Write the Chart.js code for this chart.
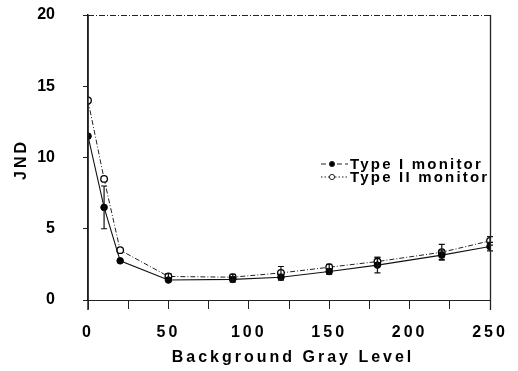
<!DOCTYPE html>
<html><head><meta charset="utf-8">
<script src="https://cdn.jsdelivr.net/npm/chart.js@4/dist/chart.umd.min.js"></script>
<style>html,body{margin:0;padding:0;background:#fff}#w{width:518px;height:371px}</style>
</head><body><div id="w"><canvas id="c"></canvas></div>
<script>
const grayLevels = [0, 10, 20, 50, 90, 120, 150, 180, 220, 250];
const type1 = [11.5, 6.5, 2.75, 1.4, 1.45, 1.6, 2.0, 2.45, 3.15, 3.75];
const type2 = [14.0, 8.5, 3.5, 1.65, 1.6, 1.9, 2.3, 2.7, 3.35, 4.15];
const type1Err = [0, 1.5, 0, 0, 0.2, 0.2, 0.2, 0.55, 0.3, 0.3];
const type2Err = [0, 0, 0, 0.2, 0.2, 0.45, 0.2, 0.3, 0.55, 0.3];
const yTicks = [0, 5, 10, 15, 20];
const xTicks = [0, 50, 100, 150, 200, 250];
const seriesNames = ['Type I monitor', 'Type II monitor'];
const xTitle = 'Background Gray Level';
const yTitle = 'JND';

const FONT = 'bold 16px "Liberation Sans", Arial, sans-serif';

const spacing = {
  id: 'spacing',
  afterLayout(chart) {
    const s = chart.scales.y;
    if (!s._patched) {
      const orig = s.drawLabels.bind(s);
      s.drawLabels = function (area) {
        const ctx = chart.ctx; const prev = ctx.letterSpacing;
        ctx.letterSpacing = '0px'; orig(area); ctx.letterSpacing = prev;
      };
      s._patched = true;
    }
  },
  beforeDraw(chart) { chart.ctx.letterSpacing = '3px'; }
};

const errorBars = {
  id: 'errorBars',
  afterDatasetsDraw(chart) {
    const ctx = chart.ctx, ys = chart.scales.y, xs = chart.scales.x;
    const errs = [type1Err, type2Err];
    ctx.save();
    ctx.strokeStyle = '#111'; ctx.lineWidth = 1.2; ctx.setLineDash([]);
    chart.data.datasets.forEach((ds, i) => {
      ds.data.forEach((p, j) => {
        const e = errs[i][j];
        if (!e) return;
        const x = xs.getPixelForValue(p.x);
        const y1 = ys.getPixelForValue(p.y - e), y2 = ys.getPixelForValue(p.y + e);
        ctx.beginPath();
        ctx.moveTo(x, y1); ctx.lineTo(x, y2);
        ctx.moveTo(x - 3, y1); ctx.lineTo(x + 3, y1);
        ctx.moveTo(x - 3, y2); ctx.lineTo(x + 3, y2);
        ctx.stroke();
      });
    });
    ctx.restore();
  }
};

const frame = {
  id: 'frame',
  afterDraw(chart) {
    const ctx = chart.ctx, a = chart.chartArea;
    ctx.save();
    ctx.strokeStyle = '#222'; ctx.lineWidth = 1;
    ctx.setLineDash([6, 2, 1, 2]);
    ctx.beginPath(); ctx.moveTo(a.left, a.top + 0.5); ctx.lineTo(a.right, a.top + 0.5); ctx.stroke();
    ctx.setLineDash([]);
    ctx.lineWidth = 1.3;
    ctx.beginPath(); ctx.moveTo(a.right + 0.5, a.top); ctx.lineTo(a.right + 0.5, a.bottom + 10); ctx.stroke();
    ctx.lineWidth = 1.5;
    ctx.beginPath(); ctx.moveTo(a.left, a.top); ctx.lineTo(a.left, a.bottom + 10); ctx.stroke();
    ctx.letterSpacing = '3px';
    ctx.fillStyle = '#000'; ctx.font = FONT;
    ctx.textAlign = 'center'; ctx.textBaseline = 'middle';
    ctx.fillText(xTitle, (a.left + a.right) / 2 + 4, 358);
    ctx.save();
    ctx.translate(22, 161); ctx.rotate(-Math.PI / 2);
    ctx.fillText(yTitle, 1.5, 0);
    ctx.restore();
    ctx.letterSpacing = '2.2px';
    ctx.font = 'bold 15px "Liberation Sans", Arial, sans-serif';
    ctx.textAlign = 'left';
    chart.data.datasets.forEach((ds, i) => {
      const y = 164 + i * 13;
      ctx.strokeStyle = '#222'; ctx.lineWidth = 1;
      ctx.setLineDash(i === 0 ? [5, 3] : [1.5, 2]);
      ctx.beginPath(); ctx.moveTo(321, y); ctx.lineTo(348, y); ctx.stroke();
      ctx.setLineDash([]);
      ctx.beginPath(); ctx.arc(332, y, 2.6, 0, Math.PI * 2);
      ctx.fillStyle = i === 0 ? '#000' : '#fff'; ctx.fill(); ctx.stroke();
      ctx.fillStyle = '#000';
      ctx.fillText(ds.label, 350, y + 1);
    });
    ctx.restore();
  }
};

const mk = (vals) => grayLevels.map((g, i) => ({ x: g, y: vals[i] }));

new Chart(document.getElementById('c'), {
  type: 'line',
  data: {
    datasets: [
      { label: seriesNames[0], data: mk(type1), borderColor: '#111', borderWidth: 1.1,
        pointRadius: 3.3, pointBackgroundColor: '#000', pointBorderColor: '#000', pointBorderWidth: 1, tension: 0 },
      { label: seriesNames[1], data: mk(type2), borderColor: '#222', borderWidth: 1, borderDash: [5, 2, 1, 2],
        pointRadius: 3.3, pointBackgroundColor: '#fff', pointBorderColor: '#000', pointBorderWidth: 1.3, tension: 0 }
    ]
  },
  options: {
    responsive: true, maintainAspectRatio: false, animation: false,
    layout: { padding: { top: 15, right: 28, left: 0, bottom: 0 } },
    plugins: { legend: { display: false }, tooltip: { enabled: false } },
    scales: {
      x: {
        type: 'linear', min: 0, max: 250,
        afterBuildTicks(s) { s.ticks = [0,25,50,75,100,125,150,175,200,225,250].map(v => ({ value: v })); },
        ticks: { color: '#000', font: { family: '"Liberation Sans", Arial, sans-serif', size: 16, weight: 'bold' },
          padding: 14, maxRotation: 0, autoSkip: false,
          callback: (v) => xTicks.includes(v) ? String(v) : '' },
        grid: { drawOnChartArea: false, drawTicks: true, tickLength: 9, color: '#222' },
        border: { display: true, color: '#222', width: 1, dash: [6, 2, 1, 2] },
        afterFit(s) { s.height = 71; s.paddingLeft = 0; s.paddingRight = 0; }
      },
      y: {
        min: 0, max: 20,
        afterBuildTicks(s) { s.ticks = yTicks.map(v => ({ value: v })); },
        ticks: { color: '#000', font: { family: '"Liberation Sans", Arial, sans-serif', size: 16, weight: 'bold' },
          padding: 28 },
        grid: { drawOnChartArea: false, drawTicks: true, tickLength: 5, color: '#222' },
        border: { display: true, color: '#111', width: 1.5 },
        afterFit(s) { s.width = 88; s.paddingTop = 0; s.paddingBottom = 0; }
      }
    }
  },
  plugins: [spacing, errorBars, frame]
});
</script>
</body></html>
